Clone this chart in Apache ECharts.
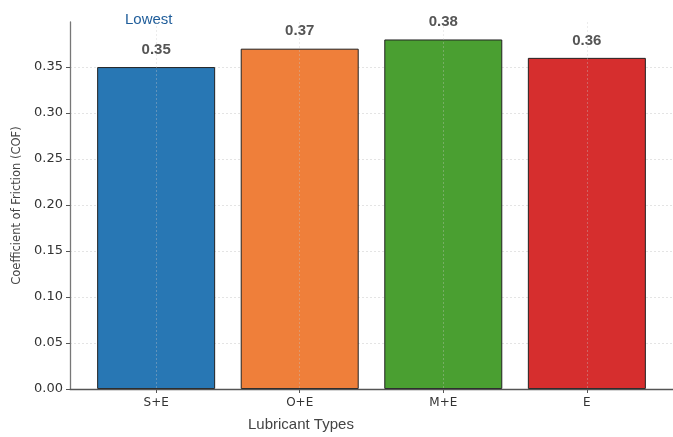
<!DOCTYPE html>
<html lang="en">
<head>
    <meta charset="UTF-8">
    <title>COF</title>
    <script src="https://cdn.jsdelivr.net/npm/echarts@6/dist/echarts.min.js"></script>
</head>
<body style="margin:0;background:#fff">
<div id="main" style="width: 673px;height:437px;"></div>

<script type="text/javascript">
    var categories = ['S+E', 'O+E', 'M+E', 'E']
    var cof = [0.35, 0.37, 0.38, 0.36]
    var colors = ['#2877b4', '#ef7f3a', '#4a9f31', '#d62e2e']
    var yTicks = [0, 0.05, 0.1, 0.15, 0.2, 0.25, 0.3, 0.35]
    var xTicks = [0, 1, 2, 3]

    var myChart = echarts.init(document.getElementById('main'));

    var data = cof.map(function (v, i) {
        return {value: [i, v], itemStyle: {color: colors[i]}}
    })

    myChart.setOption({
        animation: false,
        grid: {left: 70, right: -15, top: 22, bottom: 48},
        xAxis: {
            type: 'value',
            min: -0.6,
            max: 3.6,
            z: 5,
            axisLine: {show: true, onZero: false, lineStyle: {color: '#555', width: 1.3}},
            axisTick: {show: true, customValues: xTicks, length: 4, lineStyle: {color: '#555'}},
            axisLabel: {
                customValues: xTicks,
                color: '#333', fontSize: 12, margin: 8,
                fontFamily: 'DejaVu Sans',
                formatter: function (v) { return categories[Math.round(v)] }
            },
            splitLine: {show: true, lineStyle: {color: 'rgba(200,200,200,0.35)', type: [2, 2]}}
        },
        yAxis: {
            type: 'value',
            min: 0,
            max: 0.399,
            axisLine: {show: true, onZero: false, lineStyle: {color: '#777', width: 1.3}},
            axisTick: {show: true, customValues: yTicks, length: 4, lineStyle: {color: '#555'}},
            axisLabel: {
                customValues: yTicks,
                color: '#333', fontSize: 13, margin: 7,
                fontFamily: 'DejaVu Sans',
                formatter: function (v) { return v.toFixed(2) }
            },
            splitLine: {show: true, lineStyle: {color: '#e4e4e4', type: [2, 2]}},
            name: 'Coefficient of Friction (COF)',
            nameLocation: 'middle',
            nameGap: 46,
            nameTextStyle: {color: '#444', fontSize: 11.5, fontFamily: 'DejaVu Sans'}
        },
        graphic: [
            {type: 'text', left: 248, top: 417,
                style: {text: 'Lubricant Types', fontSize: 15, fill: '#444', fontFamily: 'Liberation Sans'}},
            {type: 'text', left: 125, top: 12,
                style: {text: 'Lowest', fontSize: 15, fill: '#1f5d9a', fontFamily: 'Liberation Sans'}}
        ],
        series: [{
            type: 'bar',
            barWidth: 118,
            data: data,
            itemStyle: {borderColor: '#222', borderWidth: 1},
            label: {
                show: true,
                position: 'top',
                distance: 10,
                color: '#555',
                fontSize: 15,
                fontWeight: 'bold',
                fontFamily: 'Liberation Sans',
                formatter: function (p) { return p.value[1].toFixed(2) }
            }
        }]
    });
</script>

</body>
</html>
